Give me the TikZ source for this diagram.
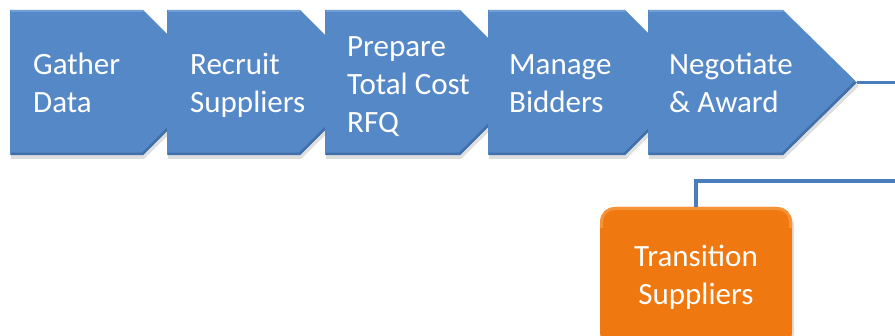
\documentclass[tikz,border=0pt]{standalone}
\usepackage{fontspec}
\setmainfont{Carlito}
\definecolor{stepblue}{RGB}{85,136,198}
\definecolor{steptop}{RGB}{112,158,214}
\definecolor{stepbot}{RGB}{66,112,170}
\definecolor{linkblue}{RGB}{74,126,187}
\definecolor{orangemain}{RGB}{240,120,16}
\definecolor{orangetop}{RGB}{246,146,56}
\tikzset{
  chev/.style={fill=stepblue},
  chevtop/.style={draw=steptop, line width=2.5pt},
  chevbot/.style={draw=stepbot, line width=2.5pt},
  chevshadow/.style={fill=black, opacity=0.13},
  steptext/.style={text=white, anchor=base west, align=left, inner sep=0pt,
    font=\fontsize{31}{38}\selectfont},
  link/.style={draw=linkblue, line width=3.2pt}
}
\begin{document}
\begin{tikzpicture}[x=1pt,y=-1pt]
\useasboundingbox (0,0) rectangle (895,336);
% first row of steps
\fill [chevshadow] (11,13) -- (144,13) -- (218,86) -- (144,159) -- (11,159) -- cycle;
\path [chev] (10,10) -- (143,10) -- (216,82.5) -- (143,155) -- (10,155) -- cycle;
\draw [chevtop] (11,11.2) -- (142.5,11.2);
\draw [chevbot] (11,153.8) -- (142.5,153.8) -- (214,82.5);
\node [steptext] (gather) at (33,113) {Gather\\Data};
\fill [chevshadow] (168,13) -- (301,13) -- (375,86) -- (301,159) -- (168,159) -- cycle;
\path [chev] (167,10) -- (300,10) -- (373,82.5) -- (300,155) -- (167,155) -- cycle;
\draw [chevtop] (168,11.2) -- (299.5,11.2);
\draw [chevbot] (168,153.8) -- (299.5,153.8) -- (371,82.5);
\node [steptext] (recruit) at (190,113) {Recruit\\Suppliers};
\fill [chevshadow] (326,13) -- (461,13) -- (535,86) -- (461,159) -- (326,159) -- cycle;
\path [chev] (325,10) -- (460,10) -- (533,82.5) -- (460,155) -- (325,155) -- cycle;
\draw [chevtop] (326,11.2) -- (459.5,11.2);
\draw [chevbot] (326,153.8) -- (459.5,153.8) -- (531,82.5);
\node [steptext] (prepare) at (347,133) {Prepare\\Total Cost\\RFQ};
\fill [chevshadow] (489,13) -- (626,13) -- (700,86) -- (626,159) -- (489,159) -- cycle;
\path [chev] (488,10) -- (625,10) -- (698,82.5) -- (625,155) -- (488,155) -- cycle;
\draw [chevtop] (489,11.2) -- (624.5,11.2);
\draw [chevbot] (489,153.8) -- (624.5,153.8) -- (696,82.5);
\node [steptext] (manage) at (509,113) {Manage\\Bidders};
\fill [chevshadow] (649,13) -- (784,13) -- (859,86) -- (784,159) -- (649,159) -- cycle;
\path [chev] (648,10) -- (783,10) -- (857,82.5) -- (783,155) -- (648,155) -- cycle;
\draw [chevtop] (649,11.2) -- (782.5,11.2);
\draw [chevbot] (649,153.8) -- (782.5,153.8) -- (855,82.5);
\node [steptext] (negotiate) at (669,113) {Negotiate\\\& Award};
\coordinate (negtip) at (857,82.5);
% second row
\fill [chevshadow, rounded corners=16pt] (601,210) rectangle (794,350);
\node [rounded corners=16pt, fill=orangemain, minimum width=192pt, minimum height=141pt,
  text=white, align=center, font=\fontsize{31}{38}\selectfont] (transition) at (696,277.5)
  {Transition\\Suppliers};
\draw [orangetop, line width=3pt, rounded corners=13pt]
  (601.5,228) -- (601.5,208.5) -- (790.5,208.5) -- (790.5,228);
% connectors
\coordinate (outA) at (895,82.5);
\coordinate (outB) at (895,181);
\draw [link] (negtip) -- (outA);
\draw [link] (outB) -| (transition.north);
\end{tikzpicture}
\end{document}
